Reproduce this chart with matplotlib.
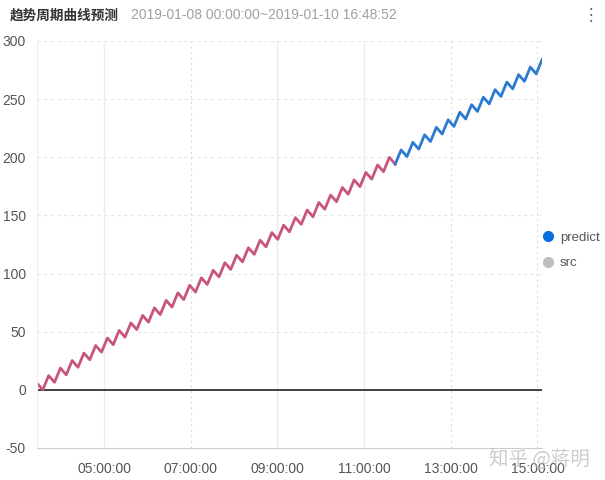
import matplotlib

matplotlib.use("Agg")
import matplotlib.dates as mdates
import matplotlib.pyplot as plt
import pandas as pd
from matplotlib.lines import Line2D

plt.rcParams["font.family"] = ["Liberation Sans", "Noto Sans CJK SC", "DejaVu Sans"]
plt.rcParams["axes.unicode_minus"] = False

title = "趋势周期曲线预测"
subtitle = "2019-01-08 00:00:00~2019-01-10 16:48:52"

# sample times: one point per half oscillation (peak / trough)
times = pd.date_range("2019-01-10 03:26:55", periods=87, freq="488s")

src_values = [
    5.8, 0.0, 12.2, 6.5, 18.7, 12.9, 25.2, 19.4, 31.6, 25.9,
    38.1, 32.4, 44.6, 38.8, 51.1, 45.3, 57.5, 51.8, 64.0, 58.2,
    70.5, 64.7, 76.9, 71.2, 83.4, 77.6, 89.9, 84.1, 96.3, 90.6,
    102.8, 97.1, 109.3, 103.5, 115.8, 110.0, 122.2, 116.5, 128.7, 122.9,
    135.2, 129.4, 141.6, 135.9, 148.1, 142.3, 154.6, 148.8, 161.1, 155.3,
    167.5, 161.8, 174.0, 168.2, 180.5, 174.7, 186.9, 181.2, 193.4, 187.6,
    199.9, 194.1,
]
predict_values = [
    194.1, 206.3, 200.6, 212.8, 207.0, 219.3, 213.5, 225.7, 220.0, 232.2,
    226.5, 238.7, 232.9, 245.2, 239.4, 251.6, 245.9, 258.1, 252.3, 264.6,
    258.8, 271.0, 265.3, 277.5, 271.7, 284.0,
]
src_times = times[: len(src_values)]
predict_times = times[len(src_values) - 1:]

tick_hours = ["05:00:00", "07:00:00", "09:00:00", "11:00:00", "13:00:00", "15:00:00"]
tick_times = pd.to_datetime(["2019-01-10 " + h for h in tick_hours])
solid_grid = ["05:00:00", "09:00:00", "11:00:00"]

src_color = "#c8557e"
predict_color = "#2b7bd3"

fig = plt.figure(figsize=(6.05, 4.8), dpi=100)
ax = fig.add_axes([0.061, 0.0667, 0.835, 0.848])

ax.plot(src_times, src_values, color=src_color, lw=2.0, solid_joinstyle="round")
ax.plot(predict_times, predict_values, color=predict_color, lw=2.0, solid_joinstyle="round")
ax.axhline(0, color="#222222", lw=1.2, zorder=1)

ax.set_xlim(times[0], times[-1])
ax.set_ylim(-50, 300)
ax.set_yticks(range(-50, 301, 50))
ax.set_xticks(tick_times)
ax.xaxis.set_major_formatter(mdates.DateFormatter("%H:%M:%S"))

for y in range(0, 301, 50):
    ax.axhline(y, color="#e6e6e6", lw=0.8, ls=(0, (3, 3)), zorder=0)
for h, t in zip(tick_hours, tick_times):
    if h in solid_grid:
        ax.axvline(t, color="#ececec", lw=1.0, zorder=0)
    else:
        ax.axvline(t, color="#dcdcdc", lw=0.8, ls=(0, (2, 3)), zorder=0)
ax.axvline(times[-1], color="#dcdcdc", lw=0.8, ls=(0, (2, 3)), zorder=0)

for side in ("top", "right"):
    ax.spines[side].set_visible(False)
ax.spines["left"].set_color("#eeeeee")
ax.spines["bottom"].set_color("#cccccc")
ax.tick_params(axis="both", length=0, labelsize=10, labelcolor="#555555")
ax.tick_params(axis="x", pad=10)
ax.tick_params(axis="y", pad=8)

handles = [
    Line2D([], [], ls="", marker="o", ms=7, color="#0a6fdc"),
    Line2D([], [], ls="", marker="o", ms=7, color="#bdbdbd"),
]
leg = fig.legend(handles, ["predict", "src"], loc="center left",
                 bbox_to_anchor=(0.893, 0.478), frameon=False,
                 handlelength=0.8, handletextpad=0.5, labelspacing=1.0,
                 fontsize=9.5, borderaxespad=0, borderpad=0.2)
for txt in leg.get_texts():
    txt.set_color("#555555")

fig.text(0.016, 0.968, title, fontsize=9.8, fontweight="bold", color="#333333",
         va="center", family=["Noto Sans CJK SC"])
fig.text(0.216, 0.968, subtitle, fontsize=10, color="#a0a0a0", va="center")
fig.text(0.976, 0.968, "⋮", fontsize=12, color="#666666", va="center", ha="center",
         family=["DejaVu Sans"])
fig.text(0.975, 0.042, "知乎 @蒋明", fontsize=14, color="#bbbbbb", alpha=0.75,
         ha="right", va="center", family=["Noto Sans CJK SC", "DejaVu Sans"])

fig.savefig("out.png", dpi=100, facecolor="white")
